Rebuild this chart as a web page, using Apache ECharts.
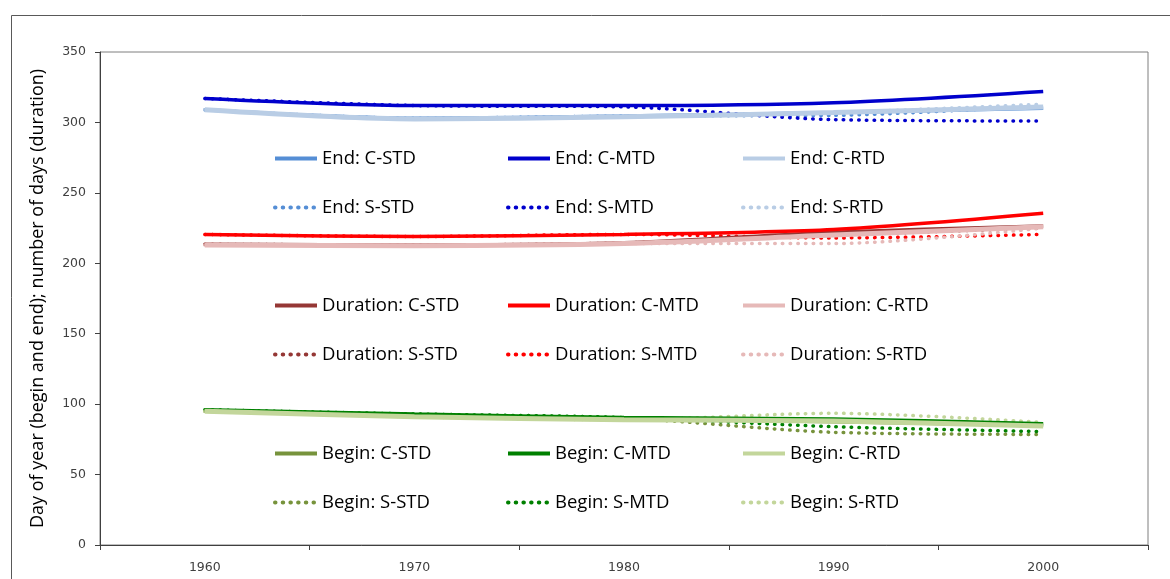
<!DOCTYPE html>
<html>
<head>
<meta charset="utf-8">
<script src="https://cdn.jsdelivr.net/npm/echarts@6/dist/echarts.min.js"></script>
<style>
  html, body { margin: 0; padding: 0; background: #fff; }
  #chart { width: 1170px; height: 579px; }
</style>
</head>
<body>
<div id="chart"></div>
<script>
// years on the x axis
const years = ['1960', '1970', '1980', '1990', '2000']

// End of season
const endCSTD = [309, 303, 304.5, 307, 310]
const endCMTD = [317, 312, 312, 314, 322]
const endCRTD = [309, 302.5, 304, 307, 311]
const endSSTD = [309, 303, 304.5, 305, 312]
const endSMTD = [317, 312, 311, 302, 301]
const endSRTD = [309, 302.5, 304, 307, 313]

// Duration
const durCSTD = [213.5, 213, 214.5, 222, 226.5]
const durCMTD = [220.5, 219, 220.5, 224, 235.5]
const durCRTD = [213, 212.5, 214, 220, 226]
const durSSTD = [213.5, 213, 214.5, 220, 225]
const durSMTD = [220.5, 219, 220.5, 218, 220.5]
const durSRTD = [213, 212.5, 214, 214, 225]

// Begin of season
const begCSTD = [95, 92, 90, 87.5, 85]
const begCMTD = [96, 93, 90.5, 89.5, 86]
const begCRTD = [95, 91, 89, 88, 84.5]
const begSSTD = [95, 92, 90, 80, 78.5]
const begSMTD = [96, 93, 90.5, 84, 80.5]
const begSRTD = [95, 91, 89, 93.5, 87]

const dots = [0.5, 7.2]

function ser (name, data, color, width, dotted) {
  return {
    name: name,
    type: 'line',
    data: data,
    symbol: 'none',
    smooth: 0.3,
    z: dotted ? 2 : 3,
    lineStyle: {
      color: color,
      width: width,
      type: dotted ? dots : 'solid',
      cap: dotted ? 'round' : 'butt'
    },
    itemStyle: { color: color }
  }
}

const series = [
  ser('End: C-STD', endCSTD, '#558ED5', 3.5, false),
  ser('End: C-MTD', endCMTD, '#0000CC', 3.5, false),
  ser('End: C-RTD', endCRTD, '#B9CDE5', 5, false),
  ser('End: S-STD', endSSTD, '#558ED5', 3.5, true),
  ser('End: S-MTD', endSMTD, '#0000CC', 3.5, true),
  ser('End: S-RTD', endSRTD, '#B9CDE5', 3.5, true),
  ser('Duration: C-STD', durCSTD, '#953735', 3.5, false),
  ser('Duration: C-MTD', durCMTD, '#FF0000', 3.5, false),
  ser('Duration: C-RTD', durCRTD, '#E6B9B8', 5, false),
  ser('Duration: S-STD', durSSTD, '#953735', 3.5, true),
  ser('Duration: S-MTD', durSMTD, '#FF0000', 3.5, true),
  ser('Duration: S-RTD', durSRTD, '#E6B9B8', 3.5, true),
  ser('Begin: C-STD', begCSTD, '#77933C', 3.5, false),
  ser('Begin: C-MTD', begCMTD, '#008000', 3.5, false),
  ser('Begin: C-RTD', begCRTD, '#C3D69B', 5, false),
  ser('Begin: S-STD', begSSTD, '#77933C', 3.5, true),
  ser('Begin: S-MTD', begSMTD, '#008000', 3.5, true),
  ser('Begin: S-RTD', begSRTD, '#C3D69B', 3.5, true)
]

// legends: one per column per group
const colX = [273, 506, 741]
const groupTop = [149, 296, 444]
const groups = ['End', 'Duration', 'Begin']
const legends = []
groups.forEach(function (g, gi) {
  ;['STD', 'MTD', 'RTD'].forEach(function (k, ci) {
    legends.push({
      orient: 'vertical',
      left: colX[ci],
      top: groupTop[gi],
      padding: 0,
      itemWidth: 42,
      itemHeight: 14,
      itemGap: 30,
      selectedMode: false,
      itemStyle: { opacity: 0 },
      lineStyle: { width: 4 },
      textStyle: { fontFamily: 'Open Sans', fontSize: 18.5, color: '#000' },
      data: [g + ': C-' + k, g + ': S-' + k]
    })
  })
})

let dom = echarts.init(document.getElementById('chart'))
let option = {
  animation: false,
  backgroundColor: '#fff',
  graphic: [{
    type: 'rect',
    shape: { x: 11.5, y: 15.5, width: 1200, height: 600 },
    style: { fill: 'none', stroke: '#595959', lineWidth: 1 },
    z: -1
  }],
  grid: {
    left: 100,
    top: 52,
    right: 22,
    bottom: 34,
    show: true,
    borderColor: '#7f7f7f',
    borderWidth: 1
  },
  legend: legends,
  xAxis: {
    type: 'category',
    data: years,
    boundaryGap: true,
    axisLine: { lineStyle: { color: '#404040', width: 1 } },
    axisTick: { show: true, length: 5, lineStyle: { color: '#404040' } },
    axisLabel: { fontFamily: 'DejaVu Sans', fontSize: 12.5, color: '#404040', margin: 16 }
  },
  yAxis: {
    type: 'value',
    min: 0,
    max: 350,
    interval: 50,
    name: 'Day of year (begin and end); number of days (duration)',
    nameLocation: 'middle',
    nameGap: 53,
    nameTextStyle: { fontFamily: 'Open Sans', fontSize: 18, color: '#000' },
    axisLine: { show: true, lineStyle: { color: '#404040', width: 1 } },
    axisTick: { show: true, length: 5, lineStyle: { color: '#404040' } },
    axisLabel: { fontFamily: 'DejaVu Sans', fontSize: 12.5, color: '#404040', margin: 14 },
    splitLine: { show: false }
  },
  series: series
}
dom.setOption(option)
</script>
</body>
</html>
